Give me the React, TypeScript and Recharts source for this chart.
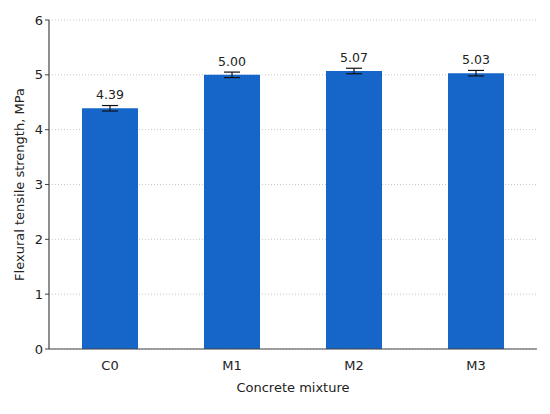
import { Bar, BarChart, CartesianGrid, ErrorBar, LabelList, XAxis, YAxis, Label } from 'recharts';

const mixtures = ['C0', 'M1', 'M2', 'M3'];
const strength = [4.39, 5.0, 5.07, 5.03];
const deviation = [0.05, 0.05, 0.05, 0.05];
const yTicks = [0, 1, 2, 3, 4, 5, 6];

const data = mixtures.map((name, i) => ({ name, value: strength[i], err: deviation[i] }));

const font = 'DejaVu Sans, sans-serif';

export default function App() {
  return (
    <div style={{ position: 'absolute', left: 0, top: 0, background: '#fff', fontFamily: font }}>
      <BarChart
        width={550}
        height={414}
        data={data}
        margin={{ top: 20, right: 13, left: 10, bottom: 35 }}
        barSize={56}
      >
        <CartesianGrid vertical={false} stroke="#c8c8c8" strokeDasharray="1 2" />
        <XAxis
          dataKey="name"
          tickLine={false}
          axisLine={{ stroke: '#444', strokeWidth: 1.2 }}
          tick={{ fill: '#222', fontSize: 13, fontFamily: font }}
          tickMargin={6}
          height={30}
        >
          <Label value="Concrete mixture" position="insideBottom" offset={-13} style={{ fill: '#222', fontSize: 13, fontFamily: font }} />
        </XAxis>
        <YAxis
          domain={[0, 6]}
          ticks={yTicks}
          interval={0}
          width={39}
          tickSize={4}
          tickLine={{ stroke: '#444' }}
          axisLine={{ stroke: '#444', strokeWidth: 1.2 }}
          tick={{ fill: '#222', fontSize: 13, fontFamily: font }}
        >
          <Label
            value="Flexural tensile strength, MPa"
            angle={-90}
            position="insideLeft"
            dx={4}
            style={{ textAnchor: 'middle', fill: '#222', fontSize: 13, fontFamily: font }}
          />
        </YAxis>
        <Bar dataKey="value" fill="#1666c9" isAnimationActive={false}>
          <ErrorBar dataKey="err" width={8} stroke="#111" strokeWidth={1.2} direction="y" />
          <LabelList
            dataKey="value"
            position="top"
            offset={9}
            formatter={(v: any) => Number(v).toFixed(2)}
            style={{ fill: '#222', fontSize: 12.5, fontFamily: font }}
          />
        </Bar>
      </BarChart>
    </div>
  );
}
